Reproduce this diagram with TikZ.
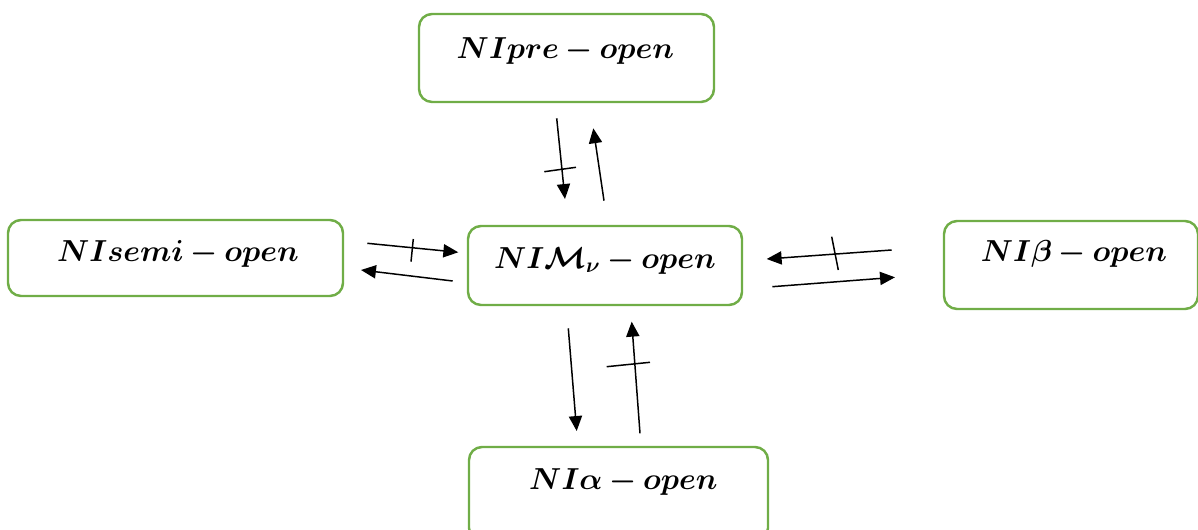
\documentclass[tikz,border=0pt]{standalone}
\usepackage{amsmath,bm}
\usetikzlibrary{arrows.meta}
\definecolor{boxgreen}{HTML}{70AD47}
\tikzset{
  box/.style={draw=boxgreen, line width=1.4pt, rounded corners=0.26cm, inner sep=0pt},
  lbl/.style={anchor=base, inner sep=0pt, font=\fontsize{17}{20}\selectfont},
  arr/.style={line width=0.85pt, -{Triangle[length=8.5pt,width=7.5pt]}},
  barline/.style={line width=0.85pt}
}
\newcommand{\bx}[1]{$\bm{#1}$}
\begin{document}
\begin{tikzpicture}[x=0.02cm,y=-0.02cm]
\useasboundingbox (0,0) rectangle (1198,530);
% boxes
\node[box, minimum width=295*0.02cm, minimum height=88*0.02cm] (pre) at (566.5,58) {};
\node[box, minimum width=335*0.02cm, minimum height=76*0.02cm] (semi) at (175.5,258) {};
\node[box, minimum width=274*0.02cm, minimum height=79*0.02cm] (mv) at (605,265.5) {};
\node[box, minimum width=254*0.02cm, minimum height=88*0.02cm] (beta) at (1071,265) {};
\node[box, minimum width=299*0.02cm, minimum height=94*0.02cm] (alpha) at (618.5,494) {};
% labels
\node[lbl] (pret) at (565.4,58.3) {\bx{NIpre-open}};
\node[lbl] (semit) at (178,261.7) {\bx{NIsemi-open}};
\node[lbl] (mvt) at (605,268.3) {\bx{NI\mathcal{M}_{\nu}-open}};
\node[lbl] (betat) at (1074,261.7) {\bx{NI\beta-open}};
\node[lbl] (alphat) at (623.4,490) {\bx{NI\alpha-open}};
% arrow coordinates: top pair
\coordinate (t1s) at (556.7,118.3); \coordinate (t1e) at (565,199);
\coordinate (t1a) at (544.3,171.7); \coordinate (t1b) at (576,167.3);
\coordinate (t2s) at (604,200.7); \coordinate (t2e) at (593.3,128.3);
% left pair
\coordinate (l1s) at (367.3,243.3); \coordinate (l1e) at (458.3,252.3);
\coordinate (l1a) at (413.3,239); \coordinate (l1b) at (411,261.7);
\coordinate (l2s) at (452.7,281); \coordinate (l2e) at (361,270);
% right pair
\coordinate (r1s) at (891.7,250); \coordinate (r1e) at (766.7,259);
\coordinate (r1a) at (831.7,236.7); \coordinate (r1b) at (838.3,270);
\coordinate (r2s) at (772.3,286.7); \coordinate (r2e) at (895,277.3);
% bottom pair
\coordinate (b1s) at (568.3,328.3); \coordinate (b1e) at (576.7,431);
\coordinate (b2s) at (640,433.3); \coordinate (b2e) at (631.7,321.7);
\coordinate (b2a) at (606.7,366.7); \coordinate (b2b) at (650,362.3);
% arrows
\draw[arr] (t1s) -- (t1e);
\draw[barline] (t1a) -- (t1b);
\draw[arr] (t2s) -- (t2e);
\draw[arr] (l1s) -- (l1e);
\draw[barline] (l1a) -- (l1b);
\draw[arr] (l2s) -- (l2e);
\draw[arr] (r1s) -- (r1e);
\draw[barline] (r1a) -- (r1b);
\draw[arr] (r2s) -- (r2e);
\draw[arr] (b1s) -- (b1e);
\draw[arr] (b2s) -- (b2e);
\draw[barline] (b2a) -- (b2b);
\end{tikzpicture}
\end{document}
